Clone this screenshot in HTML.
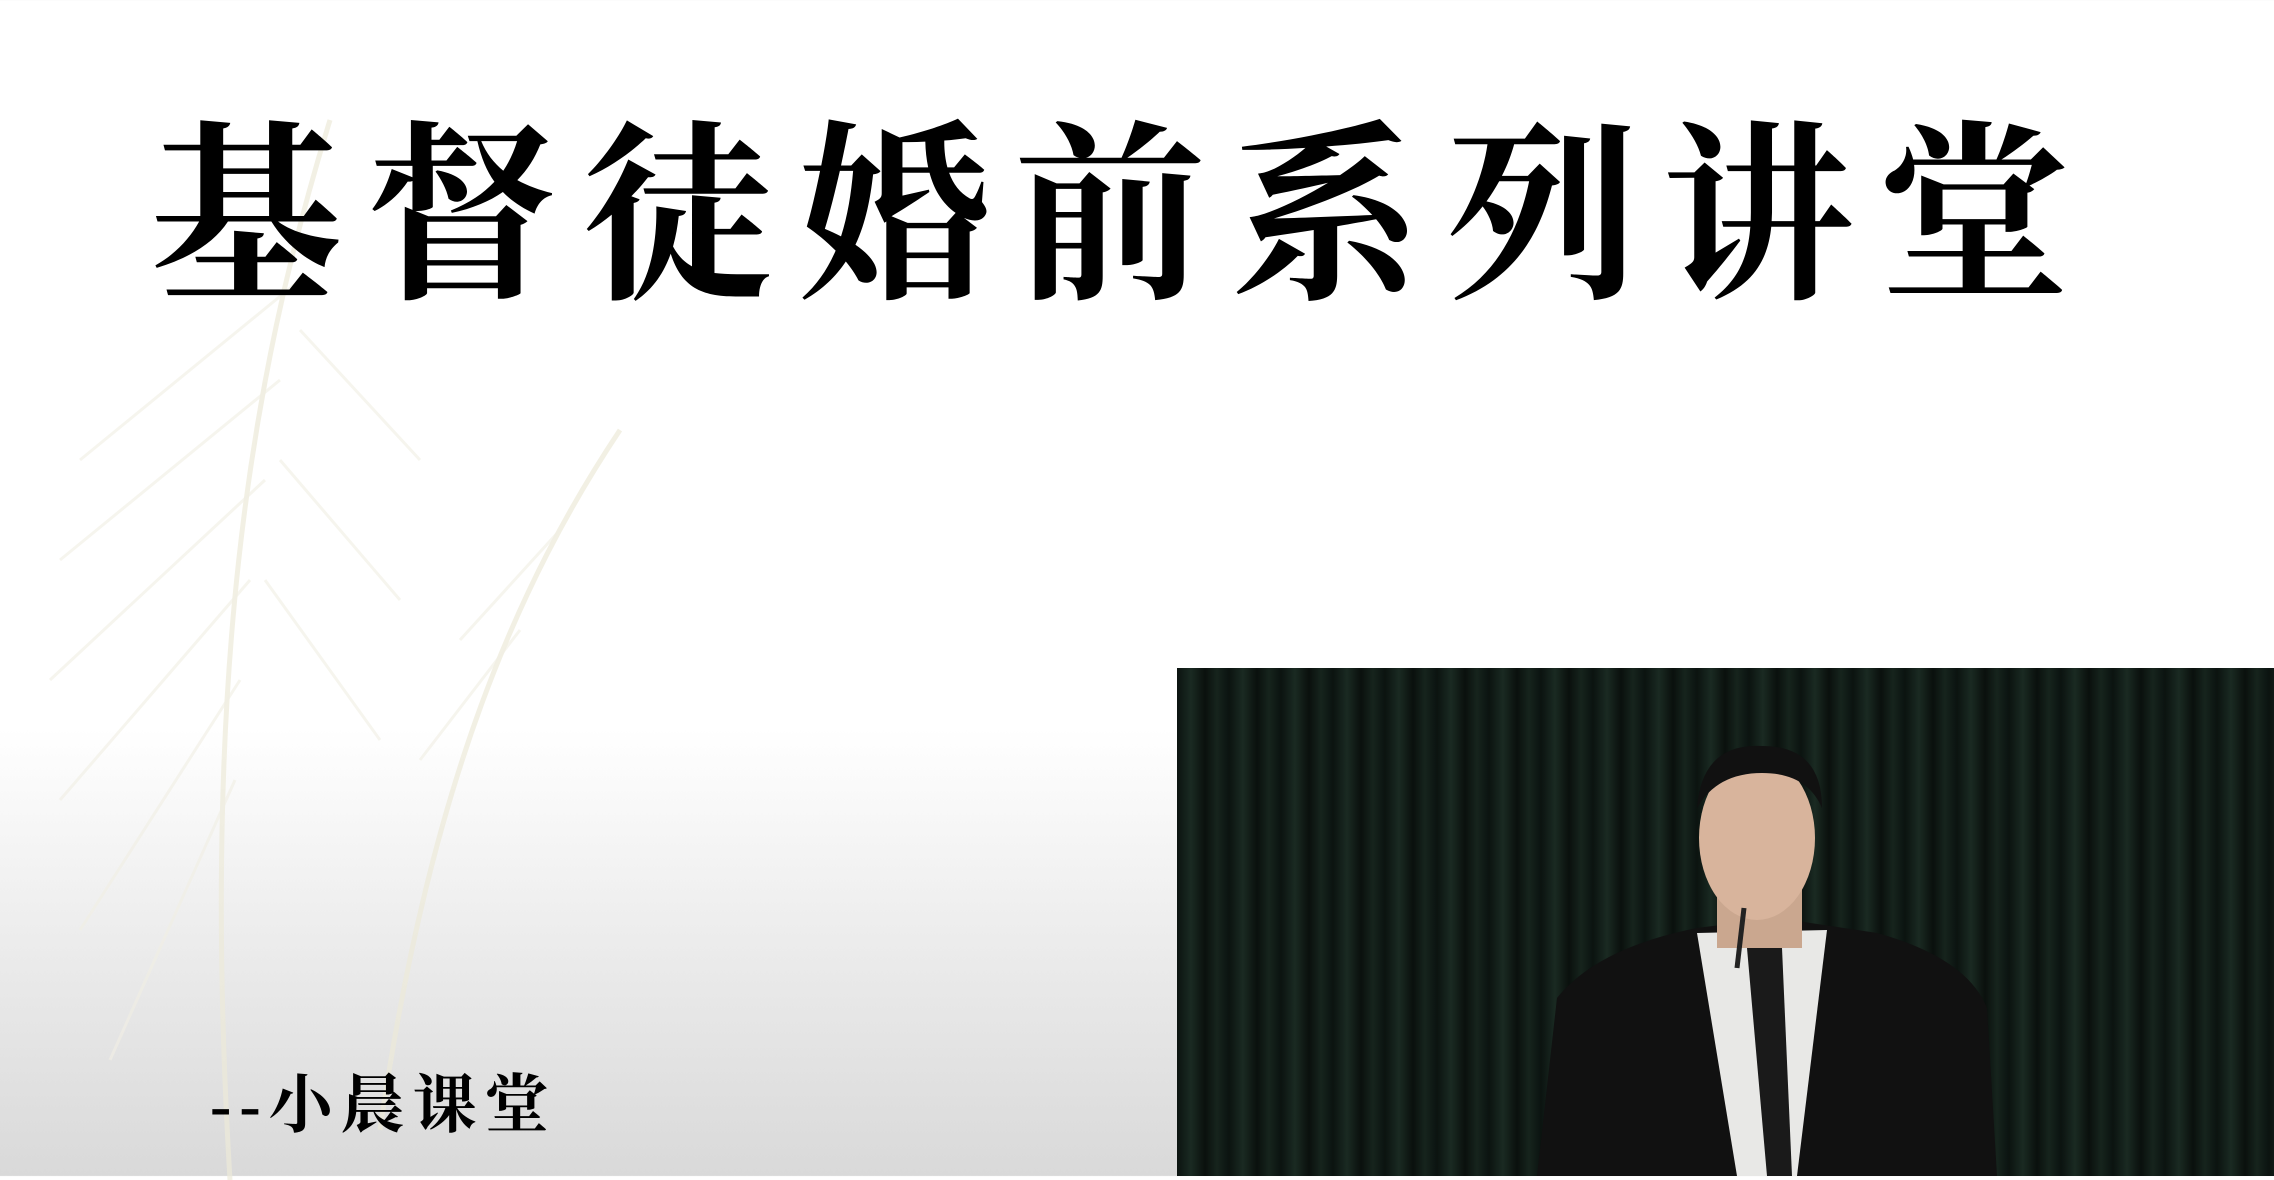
<!DOCTYPE html>
<html><head><meta charset="utf-8">
<style>
html,body{margin:0;padding:0;}
body{width:2274px;height:1176px;position:relative;overflow:hidden;
background:linear-gradient(180deg,#ffffff 0%,#ffffff 62%,#ececec 80%,#d9d9d9 100%);
font-family:"Liberation Serif","Noto Serif CJK SC",serif;}
#title{position:absolute;left:150px;top:104px;font-size:192px;line-height:230px;letter-spacing:24px;color:#000;white-space:nowrap;font-weight:700;}
#sub{position:absolute;left:210px;top:1066px;font-size:64px;line-height:80px;color:#000;white-space:nowrap;letter-spacing:8px;font-weight:700;}
#video{position:absolute;left:1177px;top:668px;width:1097px;height:508px;overflow:hidden;
background:repeating-linear-gradient(90deg,#0b1310 0px,#1a2a22 14px,#0a100d 28px,#16241d 40px,#0b1310 52px);}
</style></head>
<body>
<svg style="position:absolute;left:0;top:80px" width="700" height="1100">
<g stroke="#ece9d8" stroke-width="5" fill="none" opacity="0.7">
<path d="M330 40 C 250 300, 200 600, 230 1100"/>
<path d="M620 350 C 520 500, 430 700, 380 1050"/>
</g>
<g stroke="#f1efe4" stroke-width="3" fill="none" opacity="0.6">
<path d="M300 200 L 80 380"/><path d="M280 300 L 60 480"/><path d="M265 400 L 50 600"/>
<path d="M250 500 L 60 720"/><path d="M240 600 L 80 850"/><path d="M235 700 L 110 980"/>
<path d="M300 250 L 420 380"/><path d="M280 380 L 400 520"/><path d="M265 500 L 380 660"/>
<path d="M560 450 L 460 560"/><path d="M520 550 L 420 680"/>
</g>
</svg>
<div id="title">基督徒婚前系列讲堂</div>
<div id="sub">--小晨课堂</div>
<div id="video">
<svg width="1097" height="508">
<path d="M360 508 L380 330 Q420 280 520 260 L600 250 L700 265 Q790 290 810 340 L820 508 Z" fill="#111"/>
<path d="M520 265 L560 508 L620 508 L650 262 Z" fill="#e8e8e6"/>
<path d="M570 280 L590 508 L615 508 L605 280 Z" fill="#1a1a1a"/>
<rect x="540" y="200" width="85" height="80" fill="#caa78f"/>
<ellipse cx="580" cy="170" rx="58" ry="82" fill="#d8b49c"/>
<path d="M520 140 Q525 75 585 78 Q645 78 645 140 Q630 105 585 105 Q540 105 520 140 Z" fill="#111"/>
<line x1="560" y1="300" x2="567" y2="240" stroke="#222" stroke-width="5"/>
</svg>
</div>
</body></html>
